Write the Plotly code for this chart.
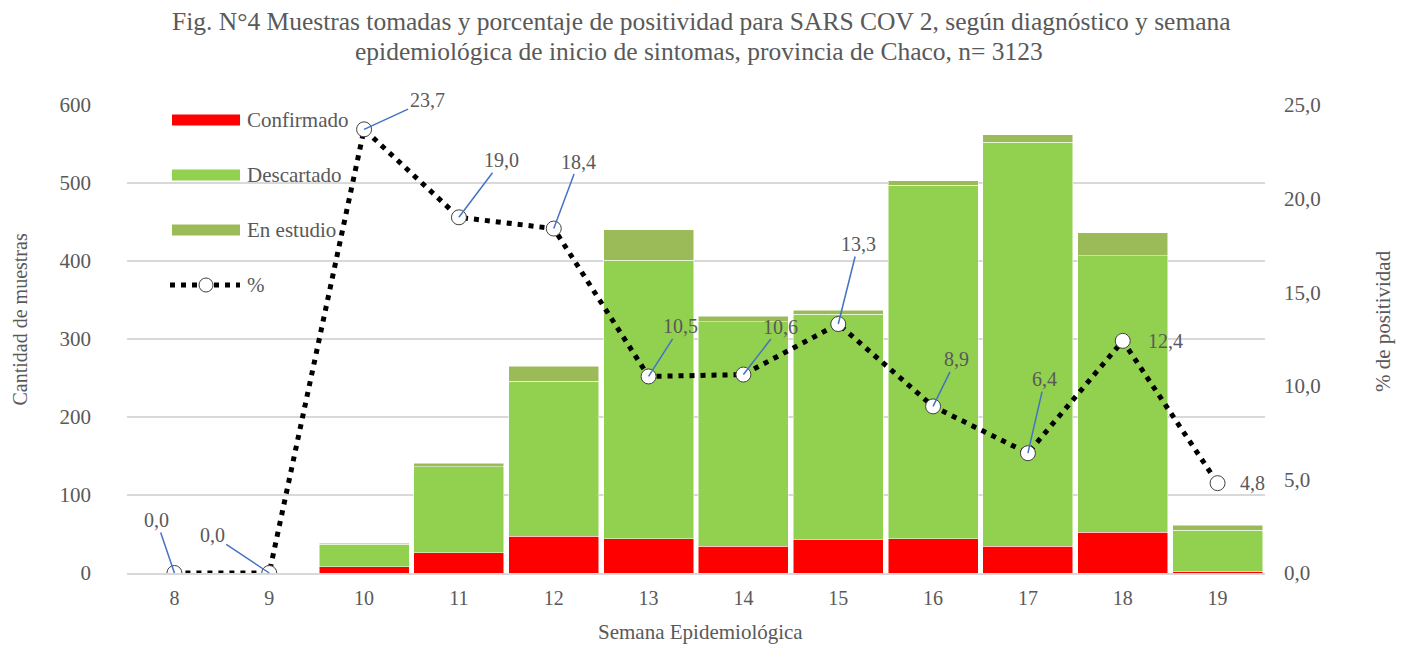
import plotly.graph_objects as go

semanas = ["8", "9", "10", "11", "12", "13", "14", "15", "16", "17", "18", "19"]
confirmado = [0, 0, 8, 26, 47, 44, 34, 43, 44, 34, 52, 2]
descartado = [0, 0, 29, 110, 199, 357, 288, 289, 453, 518, 355, 53]
en_estudio = [0, 0, 1, 5, 19, 39, 7, 5, 6, 10, 29, 6]
positividad = [0.0, 0.0, 23.7, 19.0, 18.4, 10.5, 10.6, 13.3, 8.9, 6.4, 12.4, 4.8]
# label offsets (pixels) for data labels
label_dx = [-18, -57, 63, 43, 25, 32, 37, 20, 23, 17, 43, 35]
label_dy = [-53, -38, -29, -57, -67, -50, -48, -80, -47, -74, 0, 0]

OFF = 8  # page body margin
W, H = 1407 - OFF, 645 - OFF
L, R, T, B = 127, 1265, 105, 573  # page pixel coords of plot area
PW, PH = R - L, B - T

def px(x):
    return (x - L) / PW

def py(y):
    return (B - y) / PH

FONT = "Liberation Serif"
GRAY = "#595959"

fig = go.Figure()
fig.add_trace(go.Bar(x=semanas, y=confirmado, name="Confirmado",
                     marker=dict(color="#FF0000", line=dict(color="white", width=0.5))))
fig.add_trace(go.Bar(x=semanas, y=descartado, name="Descartado",
                     marker=dict(color="#92D050", line=dict(color="white", width=0.5))))
fig.add_trace(go.Bar(x=semanas, y=en_estudio, name="En estudio",
                     marker=dict(color="#9BBB59", line=dict(color="white", width=0.5))))
fig.add_trace(go.Scatter(x=semanas, y=positividad, name="%", yaxis="y2",
                         mode="lines+markers",
                         line=dict(color="black", width=5, dash="5px,6px"),
                         marker=dict(symbol="circle", size=15, color="white",
                                     line=dict(color="#404040", width=1))))

annotations = []
for i, v in enumerate(positividad):
    txt = f"{v:.1f}".replace(".", ",")
    if label_dy[i] == 0:
        annotations.append(dict(x=i, y=v, xref="x", yref="y2", text=txt,
                                showarrow=False, xshift=label_dx[i],
                                font=dict(family=FONT, size=20, color=GRAY)))
    else:
        annotations.append(dict(x=i, y=v, xref="x", yref="y2", text=txt,
                                showarrow=True, ax=label_dx[i], ay=label_dy[i],
                                arrowhead=0, arrowwidth=1.5, arrowcolor="#4472C4",
                                font=dict(family=FONT, size=20, color=GRAY)))

# title (two lines)
annotations.append(dict(
    xref="paper", yref="paper", x=px(701), y=py(22), xanchor="center", yanchor="middle",
    text="Fig. N°4 Muestras tomadas y porcentaje de positividad para SARS COV 2, según diagnóstico y semana",
    showarrow=False, font=dict(family=FONT, size=25.5, color=GRAY)))
annotations.append(dict(
    xref="paper", yref="paper", x=px(699), y=py(52), xanchor="center", yanchor="middle",
    text="epidemiológica de inicio de sintomas, provincia de Chaco, n= 3123",
    showarrow=False, font=dict(family=FONT, size=25.5, color=GRAY)))
# axis titles
annotations.append(dict(xref="paper", yref="paper", x=px(19.5), y=py(320), xanchor="center", yanchor="middle",
                        text="Cantidad de muestras",
                        textangle=-90, showarrow=False, font=dict(family=FONT, size=20, color=GRAY)))
annotations.append(dict(xref="paper", yref="paper", x=px(1383), y=py(321), xanchor="center", yanchor="middle",
                        text="% de positividad",
                        textangle=-90, showarrow=False, font=dict(family=FONT, size=21, color=GRAY)))
annotations.append(dict(xref="paper", yref="paper", x=px(700), y=py(632), xanchor="center", yanchor="middle",
                        text="Semana Epidemiológica",
                        showarrow=False, font=dict(family=FONT, size=21, color=GRAY)))

# manual legend
shapes = []
legend_items = [("Confirmado", "#FF0000", 120), ("Descartado", "#92D050", 175), ("En estudio", "#9BBB59", 230)]
for name, color, yc in legend_items:
    shapes.append(dict(type="rect", xref="paper", yref="paper",
                       x0=px(172), x1=px(240), y0=py(yc + 5.5), y1=py(yc - 5.5),
                       fillcolor=color, line=dict(width=0)))
    annotations.append(dict(xref="paper", yref="paper", x=px(245), y=py(yc), xanchor="left", yanchor="middle",
                            text=name, showarrow=False, font=dict(family=FONT, size=21, color=GRAY)))
shapes.append(dict(type="line", xref="paper", yref="paper", x0=px(170), x1=px(240), y0=py(285), y1=py(285),
                   line=dict(color="black", width=5, dash="5px,6px")))
shapes.append(dict(type="circle", xref="paper", yref="paper", x0=px(199), x1=px(213), y0=py(292), y1=py(278),
                   fillcolor="white", line=dict(color="#404040", width=1)))
annotations.append(dict(xref="paper", yref="paper", x=px(245), y=py(285), xanchor="left", yanchor="middle",
                        text="%", showarrow=False, font=dict(family=FONT, size=21, color=GRAY)))

fig.update_layout(
    width=W, height=H,
    margin=dict(l=L - OFF, r=W - (R - OFF), t=T - OFF, b=H - (B - OFF), autoexpand=False),
    barmode="stack", bargap=0.05,
    plot_bgcolor="white", paper_bgcolor="white",
    separators=",.",
    showlegend=False,
    font=dict(family=FONT, size=20, color=GRAY),
    xaxis=dict(type="category", range=[-0.5, 11.5], showline=True, linecolor="#D9D9D9", linewidth=1.5,
               showgrid=False, ticks="", tickfont=dict(family=FONT, size=20, color=GRAY), ticklabelstandoff=6),
    yaxis=dict(range=[0, 600], dtick=100, showgrid=True, gridcolor="#D9D9D9", gridwidth=1.5,
               showline=False, zeroline=False, ticks="", tickfont=dict(family=FONT, size=21, color=GRAY),
               ticklabelstandoff=35),
    yaxis2=dict(range=[0, 25], dtick=5, overlaying="y", side="right", showgrid=False,
                zeroline=False, showline=False, ticks="", tickformat=".1f",
                tickfont=dict(family=FONT, size=21, color=GRAY), ticklabelstandoff=18),
    annotations=annotations,
    shapes=shapes,
)

fig.write_html("out.html")
